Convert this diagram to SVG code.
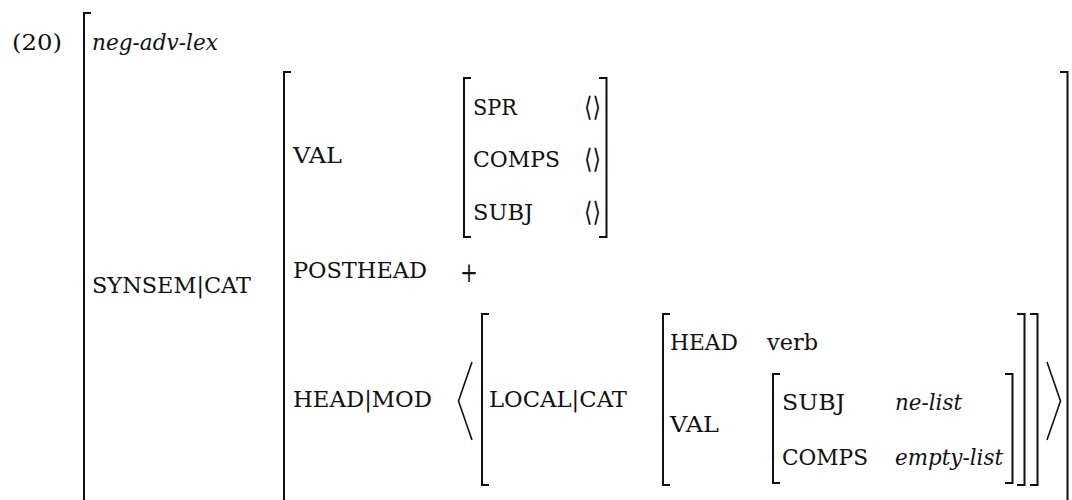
<svg xmlns="http://www.w3.org/2000/svg" width="1072" height="500" viewBox="0 0 1072 500">
  <style>
    text { font-family: "DejaVu Serif", "Liberation Serif", serif; font-size: 23px; fill: #111; }
    .it { font-style: italic; }
    .ang { font-size: 27px; }
    .op { font-size: 28px; }
    .br { fill: none; stroke: #111; stroke-width: 2; }
    .dl { fill: none; stroke: #111; stroke-width: 1.6; stroke-linejoin: miter; }
  </style>
  <rect width="1072" height="500" fill="#fff"/>

  <!-- example number -->
  <text x="12" y="50" textLength="50" lengthAdjust="spacingAndGlyphs">(20)</text>

  <!-- outermost matrix: type neg-adv-lex, open at the bottom -->
  <g id="avm-root">
    <path class="br" d="M91,13 H84 V500"/>
    <text class="it" x="92" y="50" textLength="126" lengthAdjust="spacingAndGlyphs">neg-adv-lex</text>
    <text x="92" y="293" textLength="159" lengthAdjust="spacingAndGlyphs">SYNSEM|CAT</text>
  </g>

  <!-- value of SYNSEM|CAT -->
  <g id="avm-cat">
    <path class="br" d="M291,72 H284 V500"/>
    <path class="br" d="M1060,72 H1067.5 V500"/>
    <text x="293" y="163" textLength="49" lengthAdjust="spacingAndGlyphs">VAL</text>
    <text x="293" y="278" textLength="134" lengthAdjust="spacingAndGlyphs">POSTHEAD</text>
    <text class="op" x="460" y="282" textLength="18" lengthAdjust="spacingAndGlyphs">+</text>
    <text x="293" y="407" textLength="139" lengthAdjust="spacingAndGlyphs">HEAD|MOD</text>
  </g>

  <!-- VAL: SPR / COMPS / SUBJ -->
  <g id="avm-val">
    <path class="br" d="M471,78 H464 V237 H471"/>
    <path class="br" d="M599,78 H606.5 V237 H599"/>
    <text x="473" y="115" textLength="44" lengthAdjust="spacingAndGlyphs">SPR</text>
    <text class="ang" x="584" y="116" textLength="17" lengthAdjust="spacingAndGlyphs">⟨⟩</text>
    <text x="473" y="167" textLength="87" lengthAdjust="spacingAndGlyphs">COMPS</text>
    <text class="ang" x="584" y="168" textLength="17" lengthAdjust="spacingAndGlyphs">⟨⟩</text>
    <text x="473" y="220" textLength="60" lengthAdjust="spacingAndGlyphs">SUBJ</text>
    <text class="ang" x="584" y="221" textLength="17" lengthAdjust="spacingAndGlyphs">⟨⟩</text>
  </g>

  <!-- HEAD|MOD list delimiters -->
  <g id="list-mod">
    <polyline class="dl" points="472,362 458.5,401 472,440"/>
    <polyline class="dl" points="1047,362 1060.5,401 1047,440"/>
  </g>

  <!-- list element: LOCAL|CAT -->
  <g id="avm-local">
    <path class="br" d="M489,314 H482 V485 H489"/>
    <path class="br" d="M1030,314 H1037.5 V485 H1030"/>
    <text x="489" y="407" textLength="138" lengthAdjust="spacingAndGlyphs">LOCAL|CAT</text>
  </g>

  <!-- HEAD verb / VAL -->
  <g id="avm-local-cat">
    <path class="br" d="M670,314 H663 V485 H670"/>
    <path class="br" d="M1017,314 H1024.5 V485 H1017"/>
    <text x="670" y="350" textLength="68" lengthAdjust="spacingAndGlyphs">HEAD</text>
    <text x="767" y="350" textLength="51" lengthAdjust="spacingAndGlyphs">verb</text>
    <text x="670" y="432" textLength="49" lengthAdjust="spacingAndGlyphs">VAL</text>
  </g>

  <!-- inner VAL: SUBJ / COMPS -->
  <g id="avm-inner-val">
    <path class="br" d="M780,374 H773 V483 H780"/>
    <path class="br" d="M1005,374 H1012.5 V483 H1005"/>
    <text x="782" y="410" textLength="63" lengthAdjust="spacingAndGlyphs">SUBJ</text>
    <text class="it" x="895" y="410" textLength="67" lengthAdjust="spacingAndGlyphs">ne-list</text>
    <text x="782" y="465" textLength="86" lengthAdjust="spacingAndGlyphs">COMPS</text>
    <text class="it" x="895" y="465" textLength="108" lengthAdjust="spacingAndGlyphs">empty-list</text>
  </g>
</svg>
